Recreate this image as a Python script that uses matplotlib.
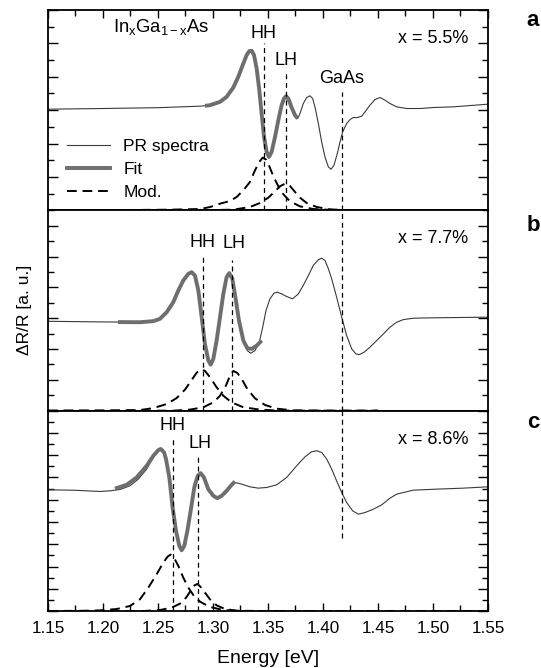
import matplotlib
matplotlib.use("Agg")
import matplotlib.pyplot as plt
from matplotlib.ticker import MultipleLocator
from matplotlib.lines import Line2D

plt.rcParams['font.family'] = ['Liberation Sans', 'DejaVu Sans']
plt.rcParams['mathtext.fontset'] = 'custom'
plt.rcParams['mathtext.rm'] = 'Liberation Sans'
plt.rcParams['mathtext.it'] = 'Liberation Sans'

# ---- panel a : x = 5.5 % ----
pr_a_e = [1.150, 1.200, 1.250, 1.2882, 1.2973, 1.3064, 1.3124, 1.3185, 1.3230, 1.3276, 1.3306, 1.3330,
          1.3352, 1.3373, 1.3397, 1.3421, 1.3442, 1.3464, 1.3488, 1.3509, 1.3533, 1.3564, 1.3594,
          1.3624, 1.3646, 1.3664, 1.3685, 1.3715, 1.3746, 1.3770, 1.3791, 1.3821, 1.3852, 1.3882,
          1.3906, 1.3927, 1.3958, 1.3988, 1.4018, 1.4049, 1.4073, 1.4100, 1.4130, 1.4155, 1.4179,
          1.4215, 1.4246, 1.4276, 1.4312, 1.4352, 1.4382, 1.4427, 1.4473, 1.4518, 1.4564, 1.4609,
          1.4670, 1.4761, 1.4882, 1.5003, 1.5185, 1.5500]
pr_a_y = [6.06, 6.10, 6.15, 6.24, 6.30, 6.50, 6.80, 7.36, 8.00, 8.80, 9.30, 9.54,
          9.56, 9.30, 8.50, 7.20, 5.80, 4.40, 3.50, 3.20, 3.50, 4.40, 5.40,
          6.30, 6.70, 6.84, 6.70, 6.16, 5.70, 5.50, 5.80, 6.40, 6.76, 6.86,
          6.70, 6.20, 5.20, 4.10, 3.20, 2.60, 2.46, 2.70, 3.40, 4.10, 4.70,
          5.20, 5.44, 5.56, 5.56, 5.64, 5.90, 6.30, 6.64, 6.76, 6.60, 6.40,
          6.20, 6.10, 6.10, 6.16, 6.20, 6.36]
fit_a_e = [1.2927, 1.2973, 1.3064, 1.3124, 1.3185, 1.3230, 1.3276, 1.3306, 1.3330, 1.3352, 1.3373,
           1.3397, 1.3421, 1.3442, 1.3464, 1.3488, 1.3509, 1.3533, 1.3564, 1.3594, 1.3624, 1.3646,
           1.3664, 1.3685, 1.3715, 1.3746, 1.3770]
fit_a_y = [6.26, 6.30, 6.50, 6.80, 7.36, 8.00, 8.80, 9.30, 9.54, 9.56, 9.30,
           8.50, 7.20, 5.80, 4.40, 3.50, 3.20, 3.50, 4.40, 5.40, 6.30, 6.70,
           6.84, 6.70, 6.16, 5.70, 5.50]
hh_a_e = [1.150, 1.220, 1.260, 1.2882, 1.2973, 1.3064, 1.3155, 1.3215, 1.3276, 1.3336, 1.3382, 1.3421,
          1.3452, 1.3482, 1.3512, 1.3549, 1.3594, 1.3640, 1.3700, 1.3791, 1.3912, 1.4094, 1.450]
hh_a_y = [0.00, 0.02, 0.04, 0.08, 0.20, 0.40, 0.56, 0.80, 1.20, 1.70, 2.40, 2.90,
          3.16, 3.04, 2.64, 2.04, 1.44, 0.96, 0.54, 0.24, 0.08, 0.02, 0.00]
lh_a_e = [1.250, 1.300, 1.3185, 1.3336, 1.3427, 1.3503, 1.3564, 1.3609, 1.3655, 1.3700, 1.3746,
          1.3791, 1.3852, 1.3943, 1.4064, 1.4246, 1.550]
lh_a_y = [0.00, 0.02, 0.04, 0.20, 0.44, 0.76, 1.14, 1.44, 1.60, 1.46, 1.10,
          0.76, 0.44, 0.20, 0.06, 0.00, 0.00]

# ---- panel b : x = 7.7 % ----
pr_b_e = [1.150, 1.200, 1.2336, 1.2458, 1.2518, 1.2579, 1.2639, 1.2685, 1.2730, 1.2776, 1.2806,
          1.2836, 1.2867, 1.2897, 1.2927, 1.2958, 1.2979, 1.3003, 1.3033, 1.3064, 1.3094, 1.3124,
          1.3148, 1.3176, 1.3206, 1.3236, 1.3276, 1.3312, 1.3342, 1.3382, 1.3421, 1.3452, 1.3482,
          1.3518, 1.3555, 1.3585, 1.3624, 1.3670, 1.3724, 1.3776, 1.3821, 1.3867, 1.3912, 1.3958,
          1.3988, 1.4018, 1.4049, 1.4079, 1.4124, 1.4170, 1.4215, 1.4261, 1.4300, 1.4330, 1.4373,
          1.4427, 1.4488, 1.4549, 1.4609, 1.4670, 1.4730, 1.4821, 1.4943, 1.5500]
pr_b_y = [5.80, 5.76, 5.74, 5.81, 5.96, 6.39, 7.04, 7.80, 8.45, 8.88, 8.99,
          8.77, 7.80, 6.07, 4.33, 3.25, 2.99, 3.36, 4.55, 6.07, 7.58, 8.67,
          8.93, 8.56, 7.26, 5.85, 4.55, 3.90, 3.73, 3.90, 4.44, 5.42, 6.50,
          7.26, 7.63, 7.69, 7.58, 7.41, 7.26, 7.58, 8.13, 8.77, 9.43, 9.79,
          9.90, 9.75, 9.21, 8.56, 7.37, 6.07, 4.88, 4.01, 3.68, 3.64, 3.79,
          4.12, 4.55, 4.98, 5.42, 5.74, 5.91, 6.00, 6.02, 6.07]
fit_b_e = [1.2136, 1.2336, 1.2458, 1.2518, 1.2579, 1.2639, 1.2685, 1.2730, 1.2776, 1.2806,
           1.2836, 1.2867, 1.2897, 1.2927, 1.2958, 1.2979, 1.3003, 1.3033, 1.3064, 1.3094, 1.3124,
           1.3148, 1.3176, 1.3206, 1.3236, 1.3276, 1.3312, 1.3352, 1.3397, 1.3443]
fit_b_y = [5.75, 5.74, 5.81, 5.96, 6.39, 7.04, 7.80, 8.45, 8.88, 8.99,
           8.77, 7.80, 6.07, 4.33, 3.25, 2.99, 3.36, 4.55, 6.07, 7.58, 8.67,
           8.93, 8.56, 7.26, 5.85, 4.55, 4.05, 4.01, 4.22, 4.55]
hh_b_e = [1.150, 1.200, 1.2336, 1.2458, 1.2579, 1.2670, 1.2746, 1.2806, 1.2852, 1.2891, 1.2927,
          1.2973, 1.3033, 1.3094, 1.3170, 1.3276, 1.3427, 1.3609, 1.450]
hh_b_y = [0.00, 0.01, 0.04, 0.17, 0.43, 0.82, 1.37, 1.99, 2.47, 2.69, 2.58,
          2.17, 1.52, 0.97, 0.54, 0.22, 0.07, 0.00, 0.00]
lh_b_e = [1.150, 1.2639, 1.2791, 1.2912, 1.3003, 1.3064, 1.3118, 1.3155, 1.3185, 1.3221, 1.3261,
          1.3312, 1.3382, 1.3473, 1.3579, 1.3730, 1.4034, 1.450]
lh_b_y = [0.00, 0.00, 0.07, 0.22, 0.54, 0.97, 1.63, 2.28, 2.58, 2.45, 2.06,
          1.41, 0.80, 0.37, 0.13, 0.02, 0.00, 0.00]

# ---- panel c : x = 8.6 % ----
pr_c_e = [1.150, 1.175, 1.1973, 1.2064, 1.2155, 1.2245, 1.2321, 1.2397, 1.2458, 1.2494, 1.2518,
          1.2542, 1.2573, 1.2603, 1.2633, 1.2664, 1.2694, 1.2715, 1.2739, 1.2767, 1.2797, 1.2830,
          1.2861, 1.2888, 1.2918, 1.2957, 1.3003, 1.3039, 1.3079, 1.3124, 1.3170, 1.3200, 1.3261,
          1.3336, 1.3412, 1.3488, 1.3579, 1.3670, 1.3761, 1.3837, 1.3897, 1.3943, 1.3988, 1.4034,
          1.4079, 1.4130, 1.4170, 1.4215, 1.4270, 1.4321, 1.4382, 1.4458, 1.4534, 1.4609, 1.4670,
          1.4821, 1.5034, 1.5275, 1.5500]
pr_c_y = [10.89, 10.85, 10.74, 10.80, 10.92, 11.25, 11.85, 12.75, 13.80, 14.46, 14.64,
          14.46, 13.65, 12.00, 9.30, 7.20, 5.85, 5.46, 5.85, 7.20, 9.00, 11.10,
          12.15, 12.39, 12.00, 10.95, 10.35, 10.14, 10.35, 10.80, 11.34, 11.55, 11.40,
          11.16, 11.04, 11.10, 11.34, 12.00, 13.05, 13.86, 14.31, 14.40, 14.25, 13.65,
          12.75, 11.55, 10.65, 9.75, 9.00, 8.70, 8.85, 9.15, 9.54, 10.14, 10.50,
          10.86, 10.95, 11.04, 11.16]
fit_c_e = [1.2109, 1.2215, 1.2306, 1.2397, 1.2458, 1.2503, 1.2527, 1.2555, 1.2573, 1.2603, 1.2633,
           1.2664, 1.2694, 1.2715, 1.2739, 1.2767, 1.2797, 1.2830, 1.2861, 1.2888, 1.2918, 1.2957,
           1.3003, 1.3039, 1.3079, 1.3124, 1.3170, 1.3200]
fit_c_y = [11.00, 11.34, 12.00, 13.05, 13.95, 14.46, 14.55, 14.25, 13.65, 12.00, 9.30,
           7.20, 5.85, 5.46, 5.85, 7.20, 9.00, 11.10, 12.15, 12.39, 12.00, 10.95,
           10.35, 10.14, 10.35, 10.80, 11.34, 11.64]
hh_c_e = [1.150, 1.180, 1.1973, 1.2124, 1.2245, 1.2336, 1.2412, 1.2488, 1.2548, 1.2588, 1.2615,
          1.2645, 1.2685, 1.2730, 1.2776, 1.2827, 1.2882, 1.2973, 1.3094, 1.3246, 1.450]
hh_c_y = [0.00, 0.02, 0.06, 0.18, 0.45, 1.05, 2.10, 3.30, 4.35, 4.89, 5.07,
          4.80, 4.05, 3.00, 2.10, 1.35, 0.84, 0.36, 0.09, 0.00, 0.00]
lh_c_e = [1.150, 1.2367, 1.2518, 1.2624, 1.2700, 1.2755, 1.2800, 1.2833, 1.2858, 1.2888, 1.2927,
          1.2973, 1.3033, 1.3109, 1.3215, 1.3427, 1.550]
lh_c_y = [0.00, 0.00, 0.09, 0.30, 0.66, 1.20, 1.86, 2.31, 2.43, 2.16, 1.65,
          1.05, 0.51, 0.18, 0.03, 0.00, 0.00]

panels = [
    dict(pr=(pr_a_e, pr_a_y), fit=(fit_a_e, fit_a_y), hh=(hh_a_e, hh_a_y), lh=(lh_a_e, lh_a_y),
         ymax=12, comp="x = 5.5%", tag="a", tag_y=0.95,
         hh_x=1.346, lh_x=1.366, hh_top=10.0, lh_top=8.3, hh_lab=10.6, lh_lab=9.0),
    dict(pr=(pr_b_e, pr_b_y), fit=(fit_b_e, fit_b_y), hh=(hh_b_e, hh_b_y), lh=(lh_b_e, lh_b_y),
         ymax=13, comp="x = 7.7%", tag="b", tag_y=0.925,
         hh_x=1.2906, lh_x=1.3173, hh_top=9.96, lh_top=9.75, hh_lab=10.94, lh_lab=10.86),
    dict(pr=(pr_c_e, pr_c_y), fit=(fit_c_e, fit_c_y), hh=(hh_c_e, hh_c_y), lh=(lh_c_e, lh_c_y),
         ymax=18, comp="x = 8.6%", tag="c", tag_y=0.94,
         hh_x=1.2634, lh_x=1.2866, hh_top=15.45, lh_top=13.8, hh_lab=16.65, lh_lab=15.06),
]
gaas_x = 1.417

fig, axes = plt.subplots(3, 1, figsize=(5.41, 6.68), dpi=100, sharex=True,
                         gridspec_kw=dict(hspace=0))
fig.subplots_adjust(left=0.0887, right=0.902, top=0.985, bottom=0.0853)

pr_col = '#3a3a3a'
fit_col = '#6e6e6e'
fs = 13

for i, (ax, p) in enumerate(zip(axes, panels)):
    ax.plot(*p['pr'], color=pr_col, lw=0.8)
    ax.plot(*p['fit'], color=fit_col, lw=2.8, solid_capstyle='butt')
    ax.plot(*p['hh'], color='black', lw=1.4, ls=(0, (5, 3)))
    ax.plot(*p['lh'], color='black', lw=1.4, ls=(0, (5, 3)))
    ax.set_ylim(0, p['ymax'])
    ax.set_xlim(1.15, 1.55)
    ax.plot([p['hh_x'], p['hh_x']], [0, p['hh_top']], color='black', lw=0.9, ls=(0, (4, 3)))
    ax.plot([p['lh_x'], p['lh_x']], [0, p['lh_top']], color='black', lw=0.9, ls=(0, (4, 3)))
    ax.text(p['hh_x'], p['hh_lab'], "HH", ha='center', va='center', fontsize=fs)
    ax.text(p['lh_x'] + (0.002 if i else 0.0), p['lh_lab'], "LH", ha='center', va='center', fontsize=fs)
    ax.text(0.955, 0.858, p['comp'], transform=ax.transAxes, ha='right', va='center', fontsize=fs)
    ax.text(1.102, p['tag_y'], p['tag'], transform=ax.transAxes, ha='center', va='center',
            fontsize=16, fontweight='bold')
    ax.yaxis.set_major_locator(MultipleLocator(2))
    ax.yaxis.set_minor_locator(MultipleLocator(1))
    ax.tick_params(axis='y', which='both', direction='in', left=True, right=True, labelleft=False)
    ax.tick_params(axis='y', which='major', length=7, width=1)
    ax.tick_params(axis='y', which='minor', length=4, width=1)
    ax.xaxis.set_major_locator(MultipleLocator(0.05))
    ax.xaxis.set_minor_locator(MultipleLocator(0.025))
    ax.tick_params(axis='x', which='both', direction='in', top=(i == 0), bottom=(i == 2), width=1)
    ax.tick_params(axis='x', which='major', length=6, labelsize=12.3, pad=7)
    ax.tick_params(axis='x', which='minor', length=4)
    for s in ax.spines.values():
        s.set_linewidth(1.3)

# GaAs line through all three panels
axes[0].plot([gaas_x, gaas_x], [0, 7.1], color='black', lw=0.9, ls=(0, (4, 3)))
axes[0].text(gaas_x, 7.9, "GaAs", ha='center', va='center', fontsize=fs)
axes[1].plot([gaas_x, gaas_x], [0, 13], color='black', lw=0.9, ls=(0, (4, 3)))
axes[2].plot([gaas_x, gaas_x], [6.6, 18], color='black', lw=0.9, ls=(0, (4, 3)))

axes[0].text(1.209, 10.98, r'In$_\mathregular{x}$Ga$_\mathregular{1-x}$As', ha='left', va='center',
             fontsize=13.3)

handles = [Line2D([], [], color=pr_col, lw=0.8),
           Line2D([], [], color=fit_col, lw=2.8),
           Line2D([], [], color='black', lw=1.4, ls=(0, (5, 3)))]
axes[0].legend(handles, ["PR spectra", "Fit", "Mod."], loc='lower left', frameon=False,
               bbox_to_anchor=(0.043, 0.05), fontsize=12.5, handlelength=2.5,
               handletextpad=0.75, labelspacing=0.45, borderaxespad=0, borderpad=0)

axes[2].set_xlabel("Energy [eV]", fontsize=14, labelpad=10)
fig.text(25 / 541, 1 - 310 / 668, "\u0394R/R [a. u.]", rotation=90, ha='center', va='center',
         fontsize=12.5)

fig.savefig("out.png", dpi=100)
